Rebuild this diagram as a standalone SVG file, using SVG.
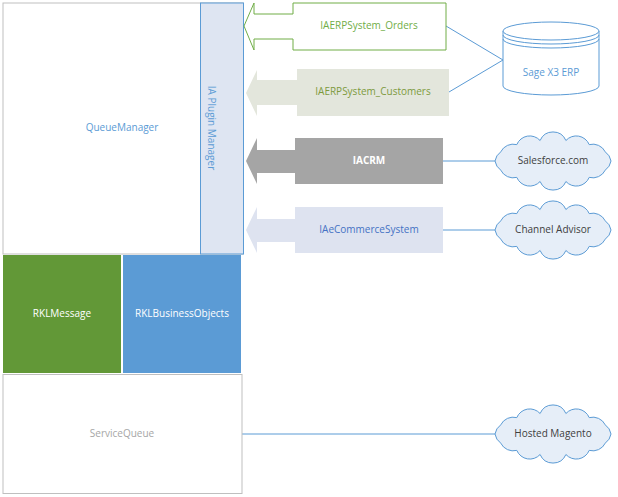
<svg xmlns="http://www.w3.org/2000/svg" width="618" height="497" viewBox="0 0 618 497">
<style>
text{font-family:"Open Sans","Liberation Sans",sans-serif;font-size:10px;text-anchor:middle;dominant-baseline:middle}
.ln{stroke:#5b9bd5;stroke-width:1;fill:none}
.cl{fill:#e6eef8;stroke:#5b9bd5;stroke-width:1}
</style>
<defs>
<path id="cloud" d="M58,0 A14,14 0 0 1 52.3,9.1 A14,14 0 0 1 36.2,16.4 A14,14 0 0 1 12.9,20.5 A14,14 0 0 1 -12.9,20.5 A14,14 0 0 1 -36.2,16.4 A14,14 0 0 1 -52.3,9.1 A14,14 0 0 1 -58,0 A14,14 0 0 1 -52.3,-9.1 A14,14 0 0 1 -36.2,-16.4 A14,14 0 0 1 -12.9,-20.5 A14,14 0 0 1 12.9,-20.5 A14,14 0 0 1 36.2,-16.4 A14,14 0 0 1 52.3,-9.1 A14,14 0 0 1 58,0 Z"/>
</defs>
<rect width="618" height="497" fill="#fff"/>
<g id="connectors">
<line class="ln" x1="446" y1="26" x2="503" y2="60"/>
<line class="ln" x1="449" y1="92" x2="503" y2="60"/>
<line class="ln" x1="443" y1="161" x2="495" y2="161"/>
<line class="ln" x1="443" y1="230" x2="495" y2="230"/>
<line class="ln" x1="242" y1="434" x2="495" y2="434"/>
</g>
<g id="queuemanager"><rect x="3" y="3" width="240" height="251" fill="#fff" stroke="#bfbfbf"/><text x="122" y="128" fill="#5b9bd5">QueueManager</text></g>
<g id="pluginmanager"><rect x="200.5" y="3" width="43" height="251" fill="#dee5f2" stroke="#5b9bd5"/><text transform="translate(211,128) rotate(90)" fill="#5b9bd5">IA Plugin Manager</text></g>
<g id="rklmessage"><rect x="3" y="255" width="118" height="118" fill="#629837"/><text x="62" y="314" fill="#fff">RKLMessage</text></g>
<g id="rklbo"><rect x="123" y="255" width="118" height="118" fill="#5b9bd5"/><text x="182" y="314" fill="#fff">RKLBusinessObjects</text></g>
<g id="servicequeue"><rect x="3" y="374.5" width="239" height="119" fill="#fff" stroke="#bfbfbf"/><text x="122" y="434" fill="#a6a6a6">ServiceQueue</text></g>
<g id="orders"><path d="M244,26 L254,3 L254,14 L293,14 L293,3 L446,3 L446,50 L293,50 L293,39 L254,39 L254,50 Z" fill="#fff" stroke="#70ad47"/><text x="369" y="26" fill="#70ad47">IAERPSystem_Orders</text></g>
<g id="customers"><path d="M246,93 L257,70 L257,80 L297,80 L297,69 L449,69 L449,116 L297,116 L297,105 L257,105 L257,116 Z" fill="#e3e6dc"/><text x="373" y="92" fill="#7d9a3c">IAERPSystem_Customers</text></g>
<g id="iacrm"><path d="M246,161 L257,138 L257,150 L295,150 L295,138 L443,138 L443,184 L295,184 L295,173 L257,173 L257,184 Z" fill="#a5a5a5"/><text x="369" y="161" fill="#fff" font-weight="bold">IACRM</text></g>
<g id="iaecommerce"><path d="M246,230 L257,207 L257,219 L295,219 L295,207 L443,207 L443,253 L295,253 L295,242 L257,242 L257,253 Z" fill="#dee3f0"/><text x="369" y="230" fill="#4472c4">IAeCommerceSystem</text></g>
<g id="sage"><path d="M503,31 L503,86 A48,9 0 0 0 599,86 L599,31" fill="#fff" stroke="#5b9bd5"/><ellipse cx="551" cy="31" rx="48" ry="9" fill="#fff" stroke="#5b9bd5"/><path d="M503,35 A48,9 0 0 0 599,35 M503,39 A48,9 0 0 0 599,39" class="ln"/><text x="551" y="73" fill="#5b9bd5">Sage X3 ERP</text></g>
<g id="salesforce"><use href="#cloud" class="cl" transform="translate(553,161)"/><text x="553" y="161" fill="#404040">Salesforce.com</text></g>
<g id="channeladvisor"><use href="#cloud" class="cl" transform="translate(553,230)"/><text x="553" y="230" fill="#404040">Channel Advisor</text></g>
<g id="magento"><use href="#cloud" class="cl" transform="translate(553,434)"/><text x="553" y="434" fill="#404040">Hosted Magento</text></g>
</svg>
